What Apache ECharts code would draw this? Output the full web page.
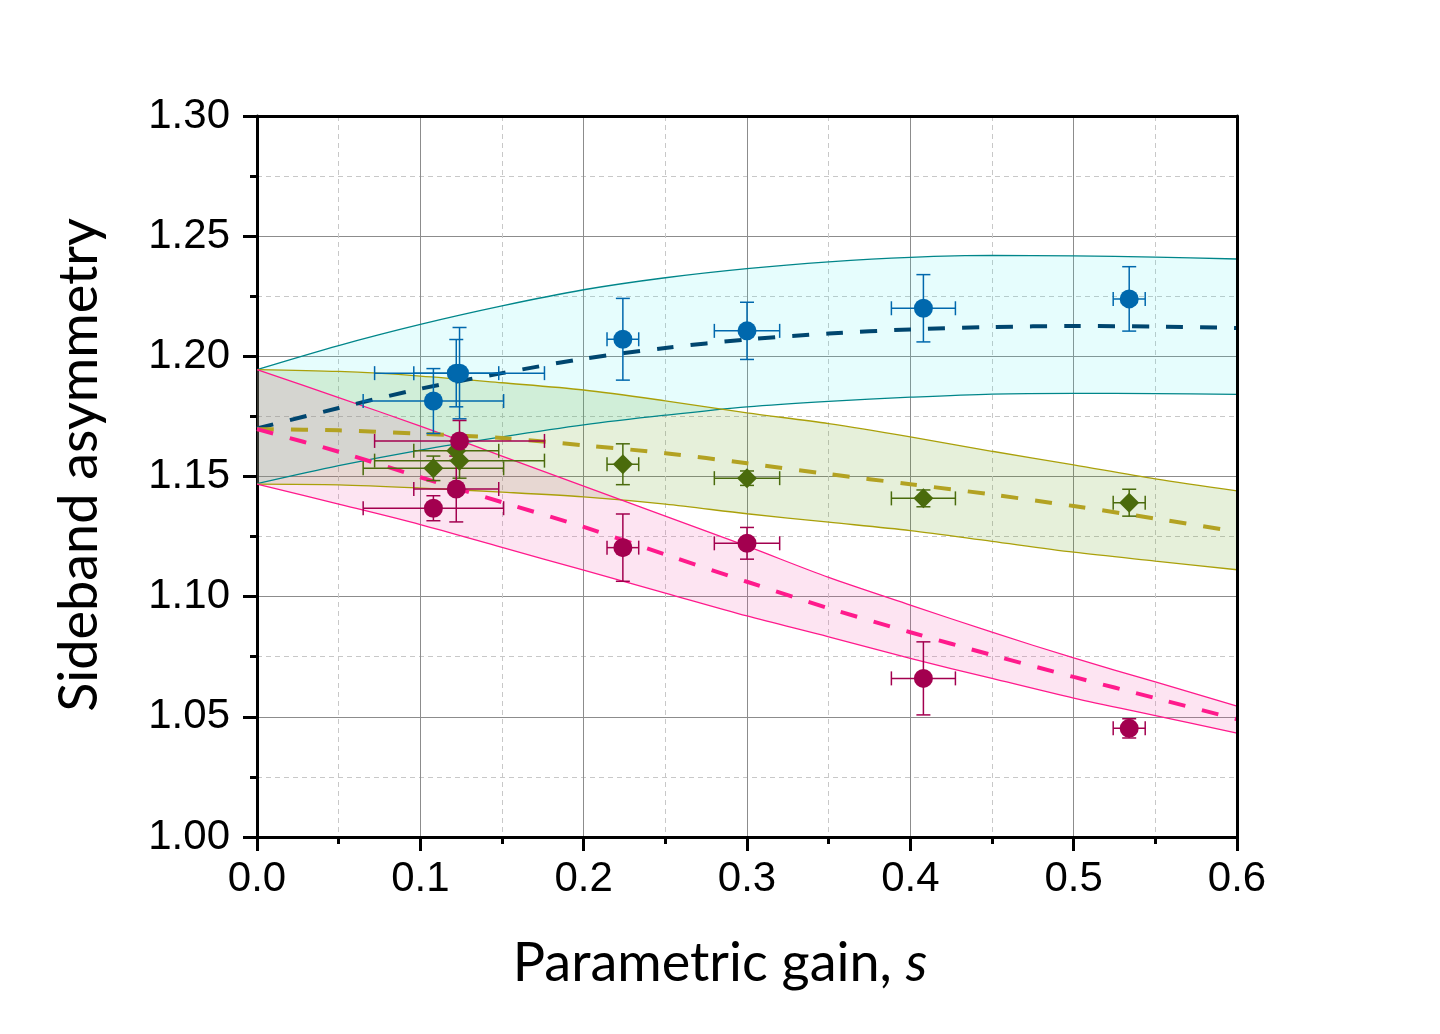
<!DOCTYPE html>
<html>
<head>
<meta charset="utf-8">
<script src="https://cdn.jsdelivr.net/npm/echarts@6/dist/echarts.min.js"></script>
<style>
html,body{margin:0;padding:0;background:#fff;}
#chart{width:1440px;height:1034px;}
</style>
</head>
<body>
<div id="chart"></div>
<script>
// ---- model curves (fit and band edges) ----
const sFit = [0, 0.05, 0.1, 0.15, 0.2, 0.25, 0.3, 0.35, 0.4, 0.45, 0.5, 0.55, 0.6];
const blueFit   = [1.170, 1.1785, 1.1865, 1.193, 1.199, 1.2035, 1.207, 1.2095, 1.2112, 1.2122, 1.2126, 1.2124, 1.2118];
const blueUpper = [1.1945, 1.2045, 1.2133, 1.221, 1.2277, 1.2327, 1.2365, 1.2393, 1.2412, 1.242, 1.2418, 1.2413, 1.2405];
const blueLower = [1.147, 1.1545, 1.161, 1.1665, 1.1715, 1.1755, 1.179, 1.1813, 1.183, 1.1843, 1.1846, 1.1845, 1.1842];
const greenFit   = [1.1697, 1.1692, 1.1678, 1.166, 1.163, 1.1597, 1.1555, 1.151, 1.1468, 1.1425, 1.1377, 1.1325, 1.127];
const greenUpper = [1.1945, 1.1937, 1.1918, 1.189, 1.186, 1.1815, 1.1765, 1.172, 1.1665, 1.1605, 1.1548, 1.149, 1.144];
const greenLower = [1.1468, 1.1465, 1.1452, 1.1435, 1.1415, 1.1385, 1.1345, 1.131, 1.1275, 1.123, 1.1185, 1.1148, 1.1112];
const pinkFit   = [1.1697, 1.1603, 1.1497, 1.1393, 1.129, 1.1175, 1.1062, 1.0952, 1.0852, 1.0757, 1.0666, 1.0578, 1.049];
const pinkUpper = [1.1945, 1.1828, 1.171, 1.1585, 1.146, 1.1335, 1.121, 1.108, 1.0965, 1.0852, 1.0745, 1.0645, 1.0545];
const pinkLower = [1.1468, 1.1385, 1.13, 1.1205, 1.111, 1.1015, 1.092, 1.0833, 1.0743, 1.066, 1.0578, 1.0505, 1.0432];

// ---- measured points ----
const sMeas    = [0.108, 0.122, 0.124, 0.224, 0.300, 0.408, 0.534];
const sMeasErr = [0.043, 0.026, 0.052, 0.0097, 0.020, 0.0196, 0.0098];
const blueVal  = [1.1814, 1.193, 1.193, 1.2071, 1.2106, 1.220, 1.2239];
const blueErr  = [0.0135, 0.014, 0.019, 0.017, 0.0119, 0.014, 0.0134];
const greenVal = [1.1534, 1.1607, 1.1566, 1.1551, 1.1493, 1.1409, 1.1391];
const greenErr = [0.0051, 0.004, 0.0073, 0.0085, 0.003, 0.0035, 0.0056];
const pinkVal  = [1.1368, 1.1448, 1.1648, 1.1204, 1.1222, 1.066, 1.0452];
const pinkErr  = [0.0052, 0.0137, 0.0085, 0.014, 0.0066, 0.0152, 0.004];

// ---- axis ticks ----
const xMin = 0, xMax = 0.6, xStep = 0.1;
const yMin = 1.0, yMax = 1.3, yStep = 0.05;

const C = {
  blueMark: '#0068ad', blueFit: '#00466f', blueEdge: '#00868a', blueFill: 'rgba(47,238,238,0.12)',
  greenMark: '#4a6b0c', greenFit: '#b3a222', greenEdge: '#aaa00a', greenFill: 'rgba(88,155,8,0.15)',
  pinkMark: '#a3004f', pinkFit: '#ff1a8c', pinkEdge: '#ff1a8c', pinkFill: 'rgba(242,75,168,0.15)'
};

const zip = (a, b) => a.map((v, i) => [v, b[i]]);

function bandSeries(upper, lower, fill) {
  return {
    type: 'custom', xAxisIndex: 0, yAxisIndex: 0, z: 1, silent: true,
    data: [[sFit[0], upper[0]]],
    renderItem: function (params, api) {
      const pts = [];
      for (let i = 0; i < sFit.length; i++) pts.push(api.coord([sFit[i], upper[i]]));
      for (let i = sFit.length - 1; i >= 0; i--) pts.push(api.coord([sFit[i], lower[i]]));
      return { type: 'polygon', shape: { points: pts }, style: { fill: fill, stroke: null } };
    }
  };
}
function edgeSeries(vals, color) {
  return {
    type: 'line', xAxisIndex: 0, yAxisIndex: 0, z: 3, silent: true, symbol: 'none', smooth: 0.3,
    data: zip(sFit, vals), lineStyle: { color: color, width: 1.3 }
  };
}
function fitSeries(vals, color) {
  return {
    type: 'line', xAxisIndex: 0, yAxisIndex: 0, z: 4, silent: true, symbol: 'none', smooth: 0.3,
    data: zip(sFit, vals), lineStyle: { color: color, width: 4, type: [17, 17] }
  };
}
function errSeries(vals, errs, color) {
  return {
    type: 'custom', xAxisIndex: 0, yAxisIndex: 0, z: 5, silent: true,
    data: sMeas.map((s, i) => [s, vals[i], sMeasErr[i], errs[i]]),
    encode: { x: 0, y: 1 },
    renderItem: function (params, api) {
      const x = api.value(0), y = api.value(1), ex = api.value(2), ey = api.value(3);
      const l = api.coord([x - ex, y]), r = api.coord([x + ex, y]);
      const t = api.coord([x, y + ey]), b = api.coord([x, y - ey]);
      const cap = 7;
      const st = { stroke: color, lineWidth: 1.5 };
      const ln = (x1, y1, x2, y2) => ({ type: 'line', shape: { x1, y1, x2, y2 }, style: st });
      return {
        type: 'group',
        children: [
          ln(l[0], l[1], r[0], r[1]),
          ln(t[0], t[1], b[0], b[1]),
          ln(l[0], l[1] - cap, l[0], l[1] + cap),
          ln(r[0], r[1] - cap, r[0], r[1] + cap),
          ln(t[0] - cap, t[1], t[0] + cap, t[1]),
          ln(b[0] - cap, b[1], b[0] + cap, b[1])
        ]
      };
    }
  };
}
function markSeries(vals, color, symbol, size) {
  return {
    type: 'scatter', xAxisIndex: 0, yAxisIndex: 0, z: 6, silent: true,
    symbol: symbol, symbolSize: size, data: zip(sMeas, vals),
    itemStyle: { color: color, opacity: 1 }
  };
}

const axisCommon = {
  type: 'value',
  axisLine: { show: true, onZero: false, lineStyle: { color: '#000', width: 3 } },
  axisTick: { show: true, length: 14, lineStyle: { color: '#000', width: 3 } },
  minorTick: { show: true, splitNumber: 2, length: 7, lineStyle: { color: '#000', width: 3 } },
  splitLine: { show: true, lineStyle: { color: '#8c8c8c', width: 1 } },
  minorSplitLine: { show: true, lineStyle: { color: '#c8c8c8', width: 1, type: [5, 4] } }
};
const frameAxis = {
  type: 'value', z: 10,
  axisLine: { show: true, onZero: false, lineStyle: { color: '#000', width: 3 } },
  axisTick: { show: false }, axisLabel: { show: false }, splitLine: { show: false }
};

const chart = echarts.init(document.getElementById('chart'), null, { renderer: 'canvas' });
chart.setOption({
  animation: false,
  backgroundColor: '#fff',
  grid: { left: 257, right: 203, top: 116, bottom: 197, containLabel: false, outerBoundsMode: 'none' },
  xAxis: [
    Object.assign({}, axisCommon, {
      min: xMin, max: xMax, interval: xStep, position: 'bottom',
      axisLabel: { color: '#000', fontSize: 42, fontFamily: 'Liberation Sans', margin: 21,
        formatter: v => v.toFixed(1) },
      name: '{a|Parametric gain, }{b|s}', nameLocation: 'middle', nameGap: 100,
      nameTextStyle: { padding: [0, 54, 0, 0], rich: {
        a: { fontFamily: 'Lato', fontSize: 54, color: '#000' },
        b: { fontFamily: 'Lato', fontSize: 54, color: '#000', fontStyle: 'italic' } } }
    }),
    Object.assign({}, frameAxis, { min: xMin, max: xMax, position: 'top' })
  ],
  yAxis: [
    Object.assign({}, axisCommon, {
      min: yMin, max: yMax, interval: yStep, position: 'left',
      axisLabel: { color: '#000', fontSize: 42, fontFamily: 'Liberation Sans', margin: 27,
        formatter: v => v.toFixed(2) },
      name: 'Sideband asymmetry', nameLocation: 'middle', nameGap: 150,
      nameTextStyle: { fontFamily: 'Lato', fontSize: 54, color: '#000', padding: [0, 0, 0, 23] }
    }),
    Object.assign({}, frameAxis, { min: yMin, max: yMax, position: 'right' })
  ],
  series: [
    bandSeries(blueUpper, blueLower, C.blueFill),
    bandSeries(greenUpper, greenLower, C.greenFill),
    bandSeries(pinkUpper, pinkLower, C.pinkFill),
    edgeSeries(blueUpper, C.blueEdge), edgeSeries(blueLower, C.blueEdge),
    edgeSeries(greenUpper, C.greenEdge), edgeSeries(greenLower, C.greenEdge),
    edgeSeries(pinkUpper, C.pinkEdge), edgeSeries(pinkLower, C.pinkEdge),
    fitSeries(blueFit, C.blueFit), fitSeries(greenFit, C.greenFit), fitSeries(pinkFit, C.pinkFit),
    errSeries(blueVal, blueErr, C.blueMark), errSeries(greenVal, greenErr, C.greenMark), errSeries(pinkVal, pinkErr, C.pinkMark),
    markSeries(blueVal, C.blueMark, 'circle', 19),
    markSeries(greenVal, C.greenMark, 'diamond', 20),
    markSeries(pinkVal, C.pinkMark, 'circle', 19)
  ]
});
</script>
</body>
</html>
